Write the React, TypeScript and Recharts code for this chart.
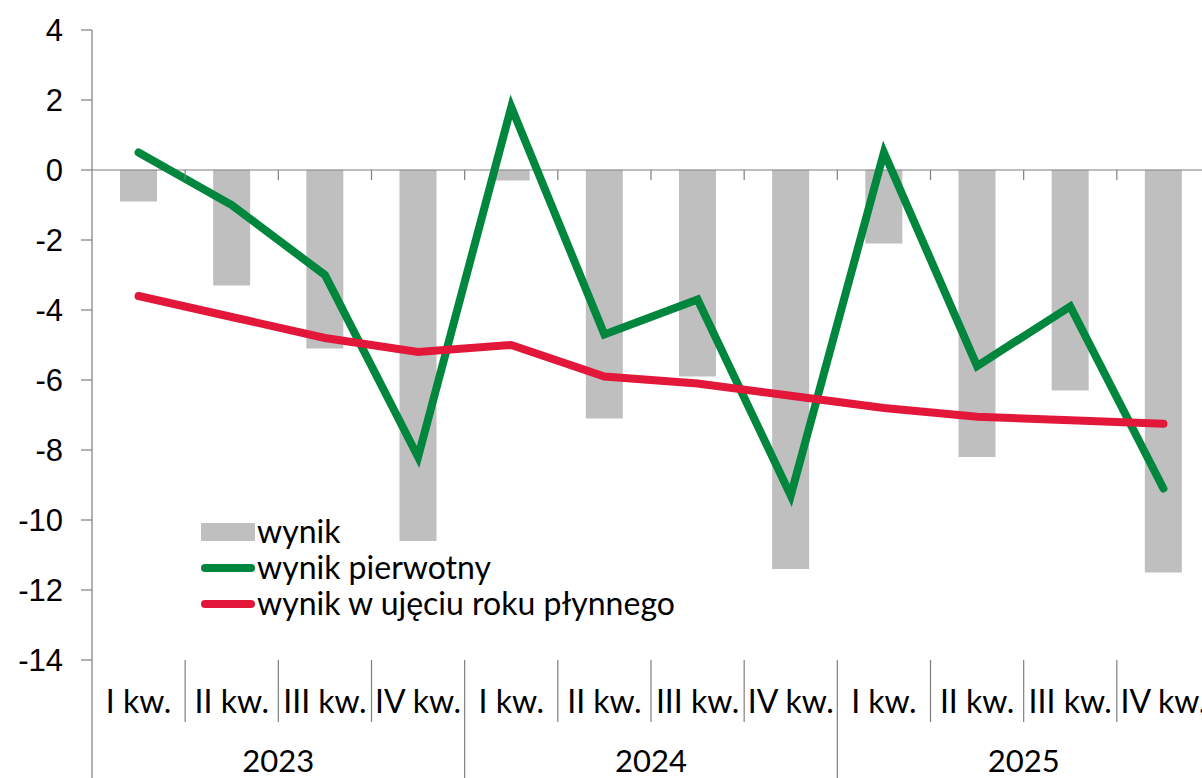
import { ComposedChart, Bar, Line, XAxis, YAxis, ReferenceLine } from 'recharts'

const years = ['2023', '2024', '2025']
const quarters = ['I kw.', 'II kw.', 'III kw.', 'IV kw.']

// wynik (bars)
const wynik = [-0.9, -3.3, -5.1, -10.6, -0.3, -7.1, -5.9, -11.4, -2.1, -8.2, -6.3, -11.5]
// wynik pierwotny (green line)
const pierwotny = [0.5, -1.0, -3.0, -8.2, 1.8, -4.7, -3.7, -9.3, 0.5, -5.6, -3.9, -9.1]
// wynik w ujęciu roku płynnego (red line)
const roczny = [-3.6, -4.2, -4.8, -5.2, -5.0, -5.9, -6.1, -6.45, -6.8, -7.05, -7.15, -7.25]

const yTicks = [-14, -12, -10, -8, -6, -4, -2, 0, 2, 4]

const data = wynik.map((v, i) => ({
  key: `${years[Math.floor(i / 4)]}-${i % 4}`,
  quarter: quarters[i % 4],
  year: years[Math.floor(i / 4)],
  wynik: v,
  pierwotny: pierwotny[i],
  roczny: roczny[i]
}))

const W = 1210
const H = 778
const TOP = 30
const PLOT_LEFT = 92
const PLOT_BOTTOM = 660
const BAND = (W - PLOT_LEFT) / data.length
const ZERO_Y = TOP + ((4 - 0) / 18) * (PLOT_BOTTOM - TOP)

const GREEN = '#00863d'
const RED = '#e3173a'
const GREY = '#bfbfbf'
const AXIS = '#7f7f7f'
const FONT = 'Lato, "Open Sans", sans-serif'

function QuarterTick(props: any) {
  const { x, index, payload } = props
  const row = data[index]
  const left = x - BAND / 2
  const yearStart = index % 4 === 0
  return (
    <g>
      {/* separators in label area */}
      <line x1={left} x2={left} y1={PLOT_BOTTOM} y2={yearStart ? H : 722} stroke={AXIS} strokeWidth={1.2} />
      {/* small ticks below the zero line */}
      {index > 0 && <line x1={left} x2={left} y1={ZERO_Y} y2={ZERO_Y + 10} stroke={AXIS} strokeWidth={1.2} />}
      <text x={x} y={713} textAnchor="middle" fontSize={32} fontFamily={FONT} fill="#000">
        {row ? row.quarter : payload.value}
      </text>
      {index % 4 === 1 && (
        <text x={x + BAND / 2} y={772} textAnchor="middle" fontSize={31} fontFamily={FONT} fill="#000">
          {row.year}
        </text>
      )}
    </g>
  )
}

function LegendBox() {
  const items = [
    { label: 'wynik', type: 'bar', color: GREY },
    { label: 'wynik pierwotny', type: 'line', color: GREEN },
    { label: 'wynik w ujęciu roku płynnego', type: 'line', color: RED }
  ]
  return (
    <div style={{ position: 'absolute', left: 197, top: 513, fontFamily: FONT, fontSize: 32, color: '#000' }}>
      {items.map((it) => (
        <div key={it.label} style={{ display: 'flex', alignItems: 'center', height: 36 }}>
          <svg width={60} height={36}>
            {it.type === 'bar' ? (
              <rect x={4} y={10} width={54} height={18} fill={it.color} />
            ) : (
              <line x1={8} x2={54} y1={19} y2={19} stroke={it.color} strokeWidth={8} strokeLinecap="round" />
            )}
          </svg>
          <span style={{ lineHeight: '36px' }}>{it.label}</span>
        </div>
      ))}
    </div>
  )
}

export default function App() {
  return (
    <div style={{ position: 'relative', width: 1202, height: H, overflow: 'hidden', background: '#fff' }}>
      <style>{'body { margin: 0; }'}</style>
      <ComposedChart width={W} height={H} data={data} margin={{ top: TOP, right: 0, left: 0, bottom: 0 }} barSize={37}>
        <XAxis
          dataKey="key"
          height={H - PLOT_BOTTOM}
          axisLine={false}
          tickLine={false}
          interval={0}
          tick={<QuarterTick />}
        />
        <YAxis
          width={PLOT_LEFT}
          domain={[-14, 4]}
          ticks={yTicks}
          interval={0}
          axisLine={{ stroke: AXIS, strokeWidth: 1.2 }}
          tickLine={{ stroke: AXIS, strokeWidth: 1.2 }}
          tickSize={11}
          tickMargin={18}
          tick={{ fontSize: 31, fontFamily: '"Liberation Sans", Arial, sans-serif', fill: '#000' }}
        />
        <ReferenceLine y={0} stroke={AXIS} strokeWidth={1.2} />
        <Bar dataKey="wynik" fill={GREY} isAnimationActive={false} />
        <Line
          dataKey="pierwotny"
          stroke={GREEN}
          strokeWidth={8}
          strokeLinecap="round"
          dot={false}
          activeDot={false}
          isAnimationActive={false}
        />
        <Line
          dataKey="roczny"
          stroke={RED}
          strokeWidth={8}
          strokeLinecap="round"
          dot={false}
          activeDot={false}
          isAnimationActive={false}
        />
      </ComposedChart>
      <LegendBox />
    </div>
  )
}
